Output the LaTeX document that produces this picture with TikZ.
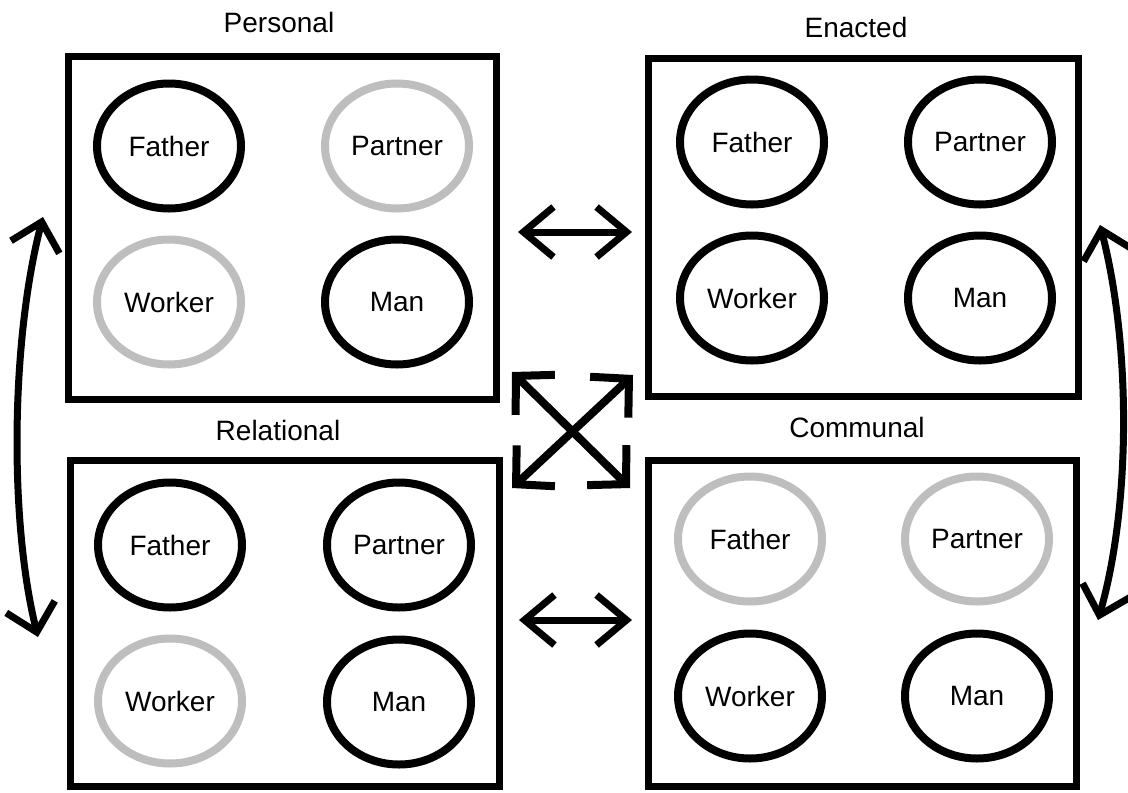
\documentclass[tikz,border=0pt]{standalone}
\usepackage{fontspec}
\setmainfont{Liberation Sans}
\usetikzlibrary{shapes.geometric,arrows.meta}
\definecolor{lgray}{RGB}{190,190,190}
\begin{document}
\begin{tikzpicture}[x=1pt,y=-1pt,
  panel/.style={draw, line width=7pt, rectangle, inner sep=0pt},
  role/.style={ellipse, draw, line width=8pt, minimum width=144pt, minimum height=125pt, inner sep=0pt, font=\fontsize{28}{34}\selectfont},
  dim/.style={role, draw=lgray},
  ttl/.style={font=\fontsize{28}{34}\selectfont, inner sep=0pt},
  xarr/.style={line width=8pt, {Straight Barb[length=27pt,width=56pt]}-{Straight Barb[length=27pt,width=56pt]}},
  harr/.style={line width=7pt, {Straight Barb[length=30pt,width=50pt]}-{Straight Barb[length=30pt,width=50pt]}},
  carr/.style={line width=7pt, {Straight Barb[length=26pt,width=50pt]}-{Straight Barb[length=26pt,width=50pt]}},
]
\useasboundingbox (0,0) rectangle (1128,793);
\fill[white] (0,0) rectangle (1128,793);

% panels
\node[panel, minimum width=428pt, minimum height=343pt] (pbox) at (282.5,228) {};
\node[panel, minimum width=430pt, minimum height=338pt] (ebox) at (863.5,227.5) {};
\node[panel, minimum width=429pt, minimum height=326pt] (rbox) at (285,623.5) {};
\node[panel, minimum width=428pt, minimum height=326pt] (cbox) at (862.5,623.5) {};

% titles
\node[ttl] (pt) at (279,22) {Personal};
\node[ttl] (et) at (856,27) {Enacted};
\node[ttl] (rt) at (278,430) {Relational};
\node[ttl] (ct) at (857,427) {Communal};

% Personal
\node[role] (pf) at (169,146) {Father};
\node[dim]  (pp) at (397,146) {Partner};
\node[dim]  (pw) at (169,302) {Worker};
\node[role] (pm) at (397,302) {Man};
% Enacted
\node[role] (ef) at (752,142) {Father};
\node[role] (ep) at (980,142) {Partner};
\node[role] (ew) at (752,298) {Worker};
\node[role] (em) at (980,298) {Man};
% Relational
\node[role] (rf) at (170,545) {Father};
\node[role] (rp) at (399,545) {Partner};
\node[dim]  (rw) at (170,701) {Worker};
\node[role] (rm) at (399,702) {Man};
% Communal
\node[dim]  (cf) at (750,539) {Father};
\node[dim]  (cp) at (977,539) {Partner};
\node[role] (cw) at (750,696) {Worker};
\node[role] (cm) at (977,696) {Man};

% arrow end points
\coordinate (h1a) at (518,232);
\coordinate (h1b) at (632,232);
\coordinate (h2a) at (519,620);
\coordinate (h2b) at (632,620);
\coordinate (xnw) at (512,372);
\coordinate (xse) at (630,488);
\coordinate (xne) at (633,375);
\coordinate (xsw) at (512,488);
\coordinate (l1) at (43,217);
\coordinate (l2) at (38,637);
\coordinate (r1) at (1100,225);
\coordinate (r2) at (1098,620);

\draw[harr] (h1a) -- (h1b);
\draw[harr] (h2a) -- (h2b);
\draw[xarr] (xnw) -- (xse);
\draw[xarr] (xsw) -- (xne);
\draw[carr] (l1) .. controls (11,340) and (9,520) .. (l2);
\draw[carr] (r1) .. controls (1131,345) and (1131,505) .. (r2);
\end{tikzpicture}
\end{document}
